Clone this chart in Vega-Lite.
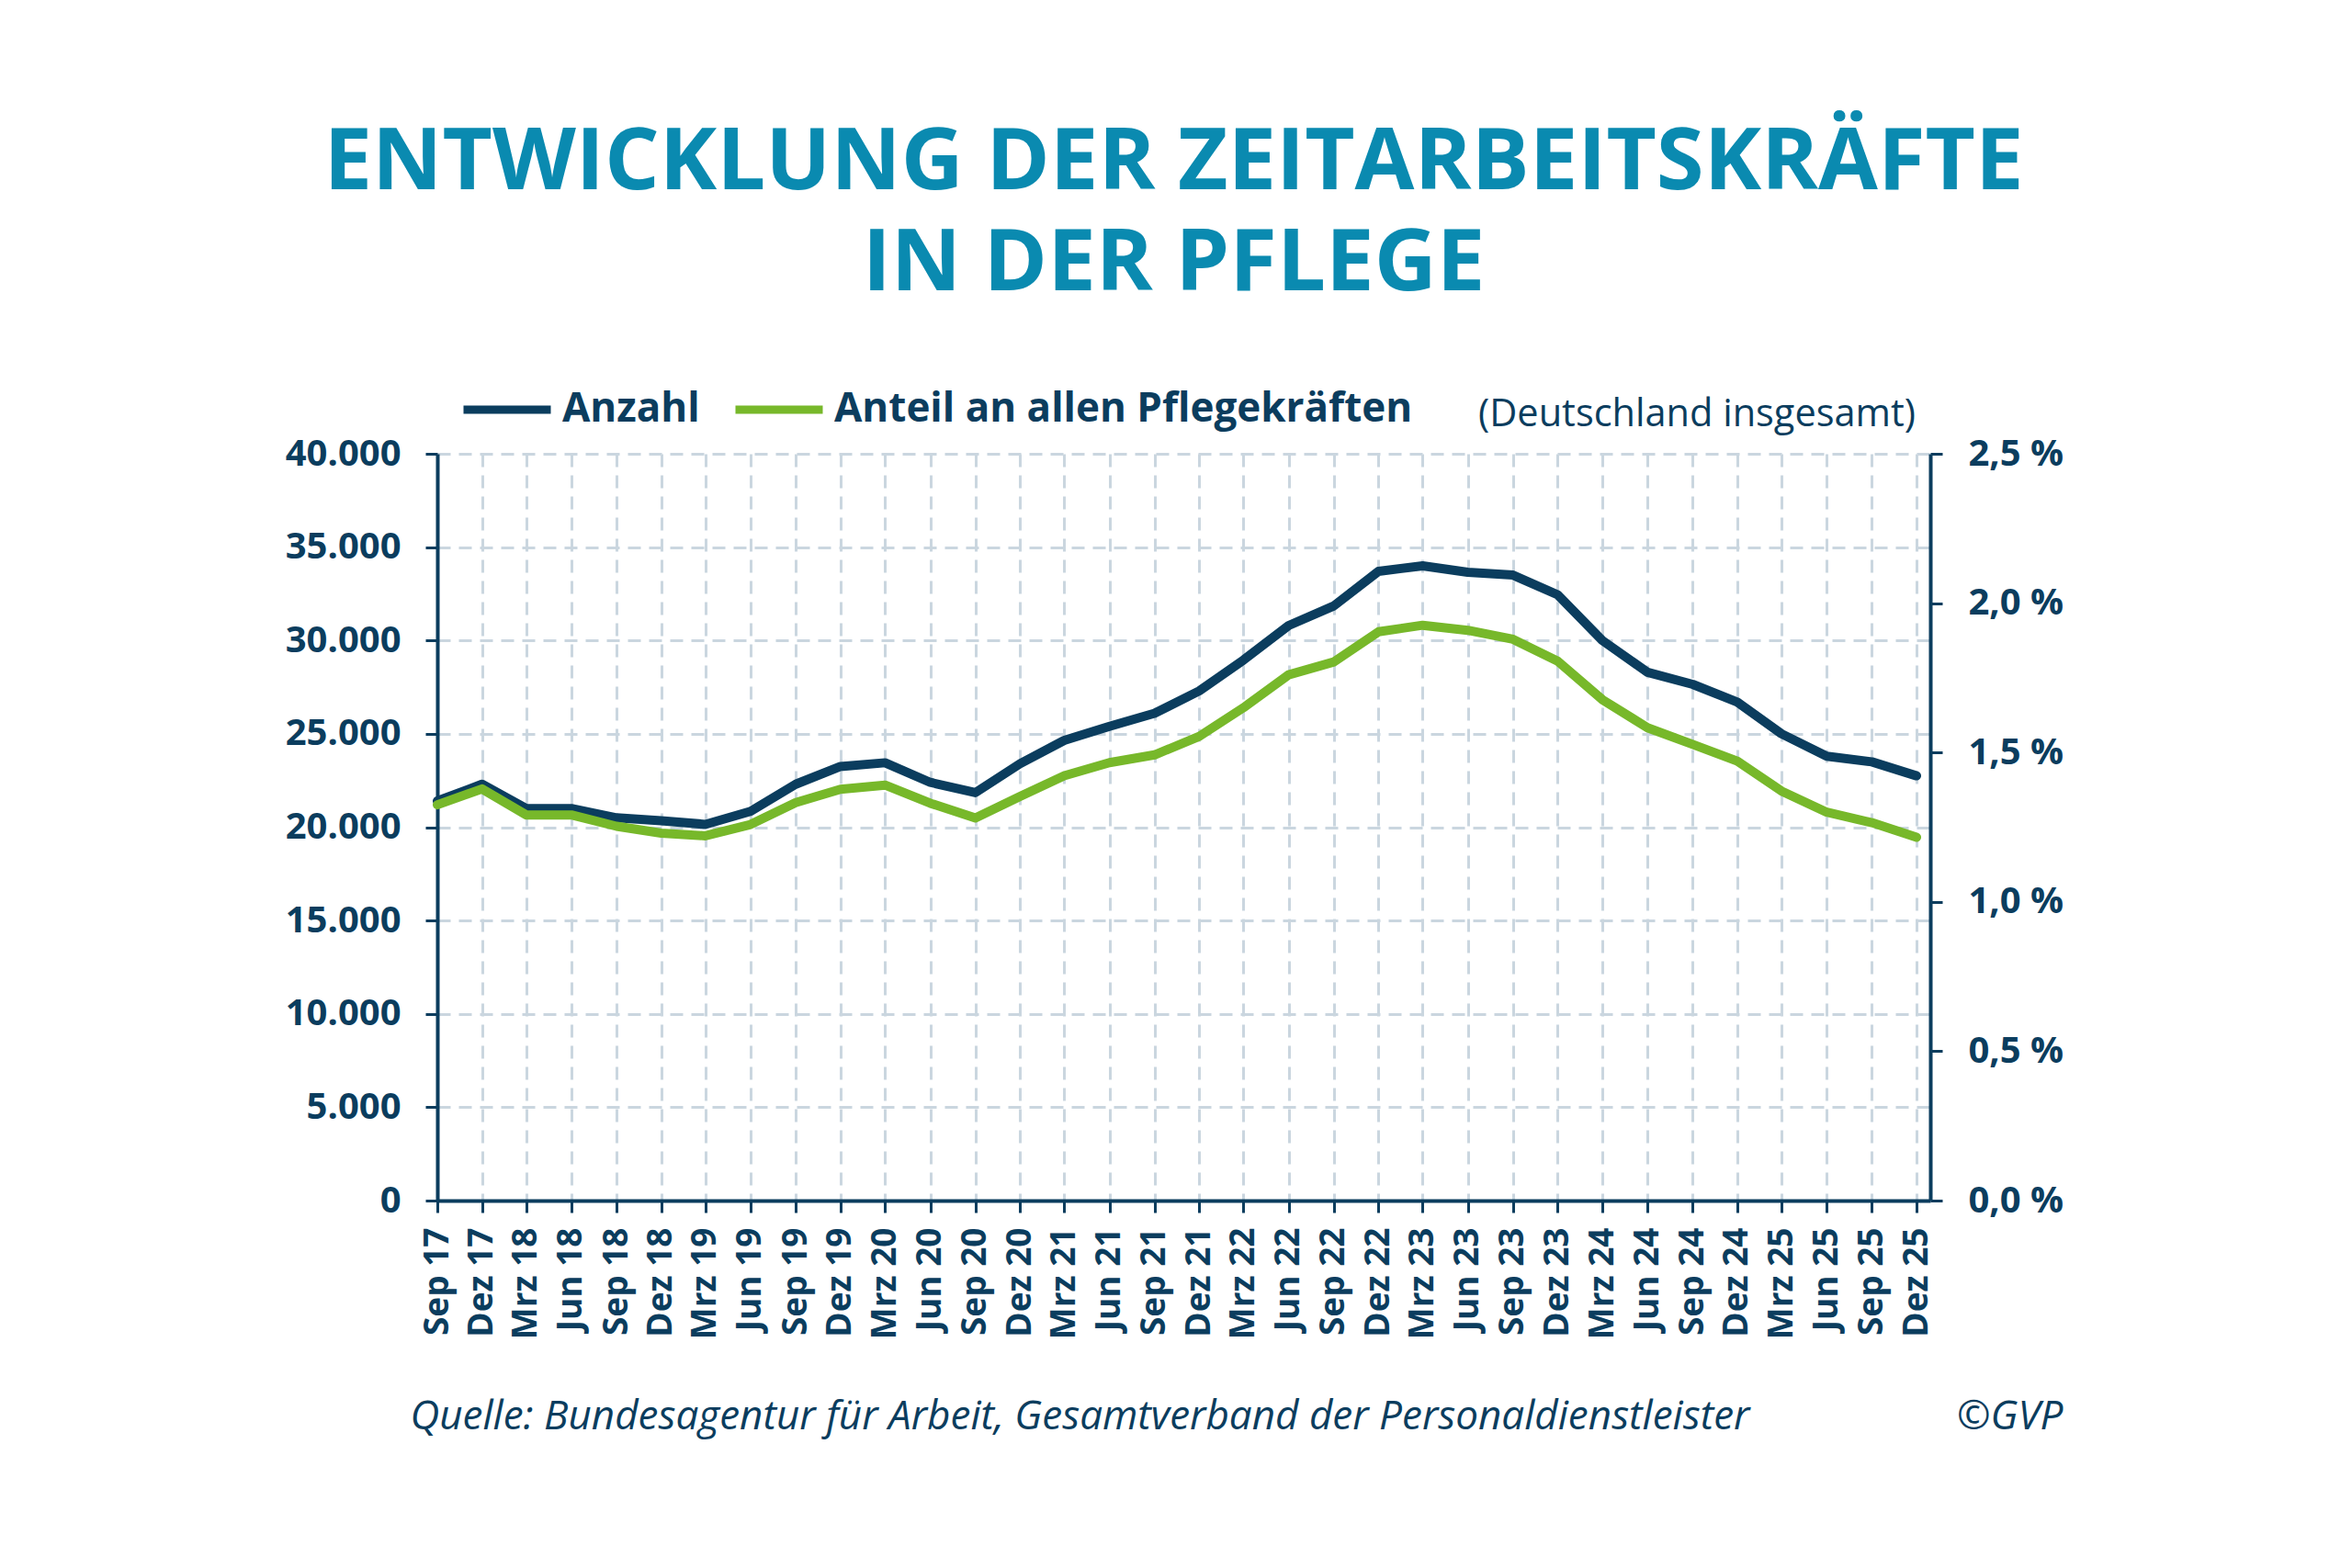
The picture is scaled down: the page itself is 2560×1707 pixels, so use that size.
{
  "$schema": "https://vega.github.io/schema/vega-lite/v6.json",
  "width": 1625,
  "height": 813,
  "autosize": {"type": "none"},
  "padding": {"left": 476, "top": 494, "right": 459, "bottom": 400},
  "background": "white",
  "config": {
    "font": "Open Sans",
    "view": {"stroke": null},
    "axis": {
      "domainColor": "#0b3d5e",
      "domainWidth": 4,
      "tickColor": "#0b3d5e",
      "tickWidth": 3,
      "tickSize": 13,
      "labelColor": "#0b3d5e",
      "labelFont": "Open Sans",
      "labelFontWeight": "bold",
      "labelFontSize": 40,
      "gridColor": "#cad6df",
      "gridWidth": 3,
      "gridDash": [14, 9],
      "titleColor": "#0b3d5e",
      "titleFont": "Open Sans",
      "titleFontStyle": "italic",
      "titleFontWeight": "normal",
      "titleFontSize": 44
    },
    "legend": {
      "orient": "none",
      "legendX": 24,
      "legendY": -100,
      "direction": "horizontal",
      "symbolType": "stroke",
      "symbolStrokeWidth": 9,
      "symbolSize": 9025,
      "labelFont": "Open Sans",
      "labelFontSize": 44,
      "labelFontWeight": "bold",
      "labelColor": "#0b3d5e",
      "labelOffset": 8,
      "labelLimit": 900,
      "columnPadding": 20,
      "titleOrient": "right",
      "titleBaseline": "top",
      "titleFont": "Open Sans",
      "titleFontSize": 41.5,
      "titleFontWeight": "normal",
      "titleColor": "#0b3d5e",
      "titlePadding": 72,
      "titleLimit": 900
    }
  },
  "title": {
    "text": ["ENTWICKLUNG DER ZEITARBEITSKRÄFTE", "IN DER PFLEGE"],
    "anchor": "middle",
    "font": "Open Sans",
    "fontSize": 94,
    "fontWeight": "bold",
    "color": "#0a8ab0",
    "lineHeight": 110,
    "offset": 58,
    "dx": -11
  },
  "data": {
    "values": [
      {"quartal": "2017-09-15T00:00:00", "anzahl": 21400, "anteil": 1.325},
      {"quartal": "2017-12-15T00:00:00", "anzahl": 22300, "anteil": 1.378},
      {"quartal": "2018-03-15T00:00:00", "anzahl": 21000, "anteil": 1.291},
      {"quartal": "2018-06-15T00:00:00", "anzahl": 21000, "anteil": 1.291},
      {"quartal": "2018-09-15T00:00:00", "anzahl": 20500, "anteil": 1.253},
      {"quartal": "2018-12-15T00:00:00", "anzahl": 20350, "anteil": 1.23},
      {"quartal": "2019-03-15T00:00:00", "anzahl": 20150, "anteil": 1.221},
      {"quartal": "2019-06-15T00:00:00", "anzahl": 20850, "anteil": 1.259},
      {"quartal": "2019-09-15T00:00:00", "anzahl": 22300, "anteil": 1.332},
      {"quartal": "2019-12-15T00:00:00", "anzahl": 23250, "anteil": 1.377},
      {"quartal": "2020-03-15T00:00:00", "anzahl": 23450, "anteil": 1.391},
      {"quartal": "2020-06-15T00:00:00", "anzahl": 22400, "anteil": 1.33},
      {"quartal": "2020-09-15T00:00:00", "anzahl": 21850, "anteil": 1.281},
      {"quartal": "2020-12-15T00:00:00", "anzahl": 23400, "anteil": 1.353},
      {"quartal": "2021-03-15T00:00:00", "anzahl": 24650, "anteil": 1.422},
      {"quartal": "2021-06-15T00:00:00", "anzahl": 25400, "anteil": 1.466},
      {"quartal": "2021-09-15T00:00:00", "anzahl": 26100, "anteil": 1.492},
      {"quartal": "2021-12-15T00:00:00", "anzahl": 27300, "anteil": 1.554},
      {"quartal": "2022-03-15T00:00:00", "anzahl": 28950, "anteil": 1.65},
      {"quartal": "2022-06-15T00:00:00", "anzahl": 30800, "anteil": 1.76},
      {"quartal": "2022-09-15T00:00:00", "anzahl": 31850, "anteil": 1.803},
      {"quartal": "2022-12-15T00:00:00", "anzahl": 33700, "anteil": 1.904},
      {"quartal": "2023-03-15T00:00:00", "anzahl": 34000, "anteil": 1.926},
      {"quartal": "2023-06-15T00:00:00", "anzahl": 33650, "anteil": 1.909},
      {"quartal": "2023-09-15T00:00:00", "anzahl": 33500, "anteil": 1.879},
      {"quartal": "2023-12-15T00:00:00", "anzahl": 32450, "anteil": 1.806},
      {"quartal": "2024-03-15T00:00:00", "anzahl": 30000, "anteil": 1.677},
      {"quartal": "2024-06-15T00:00:00", "anzahl": 28300, "anteil": 1.583},
      {"quartal": "2024-09-15T00:00:00", "anzahl": 27650, "anteil": 1.527},
      {"quartal": "2024-12-15T00:00:00", "anzahl": 26700, "anteil": 1.471},
      {"quartal": "2025-03-15T00:00:00", "anzahl": 25000, "anteil": 1.371},
      {"quartal": "2025-06-15T00:00:00", "anzahl": 23800, "anteil": 1.3},
      {"quartal": "2025-09-15T00:00:00", "anzahl": 23500, "anteil": 1.265},
      {"quartal": "2025-12-15T00:00:00", "anzahl": 22750, "anteil": 1.216}
    ]
  },
  "encoding": {
    "x": {
      "field": "quartal",
      "type": "temporal",
      "scale": {
        "domain": [
          {"year": 2017, "month": 9, "date": 15},
          {"year": 2026, "month": 1, "date": 12}
        ]
      },
      "axis": {
        "values": [
          {"year": 2017, "month": 9, "date": 15}, {"year": 2017, "month": 12, "date": 15},
          {"year": 2018, "month": 3, "date": 15}, {"year": 2018, "month": 6, "date": 15},
          {"year": 2018, "month": 9, "date": 15}, {"year": 2018, "month": 12, "date": 15},
          {"year": 2019, "month": 3, "date": 15}, {"year": 2019, "month": 6, "date": 15},
          {"year": 2019, "month": 9, "date": 15}, {"year": 2019, "month": 12, "date": 15},
          {"year": 2020, "month": 3, "date": 15}, {"year": 2020, "month": 6, "date": 15},
          {"year": 2020, "month": 9, "date": 15}, {"year": 2020, "month": 12, "date": 15},
          {"year": 2021, "month": 3, "date": 15}, {"year": 2021, "month": 6, "date": 15},
          {"year": 2021, "month": 9, "date": 15}, {"year": 2021, "month": 12, "date": 15},
          {"year": 2022, "month": 3, "date": 15}, {"year": 2022, "month": 6, "date": 15},
          {"year": 2022, "month": 9, "date": 15}, {"year": 2022, "month": 12, "date": 15},
          {"year": 2023, "month": 3, "date": 15}, {"year": 2023, "month": 6, "date": 15},
          {"year": 2023, "month": 9, "date": 15}, {"year": 2023, "month": 12, "date": 15},
          {"year": 2024, "month": 3, "date": 15}, {"year": 2024, "month": 6, "date": 15},
          {"year": 2024, "month": 9, "date": 15}, {"year": 2024, "month": 12, "date": 15},
          {"year": 2025, "month": 3, "date": 15}, {"year": 2025, "month": 6, "date": 15},
          {"year": 2025, "month": 9, "date": 15}, {"year": 2025, "month": 12, "date": 15}
        ],
        "labelExpr": "['Jan','Feb','Mrz','Apr','Mai','Jun','Jul','Aug','Sep','Okt','Nov','Dez'][month(datum.value)] + ' ' + timeFormat(datum.value, '%y')",
        "labelAngle": -90,
        "labelAlign": "right",
        "labelBaseline": "middle",
        "labelPadding": 16,
        "labelFontSize": 37,
        "labelFlush": false,
        "labelOverlap": false,
        "grid": true,
        "title": "Quelle: Bundesagentur für Arbeit, Gesamtverband der Personaldienstleister",
        "titleAnchor": "start",
        "titleAlign": "left",
        "titleBaseline": "middle",
        "titleX": -30,
        "titleY": 235
      }
    }
  },
  "layer": [
    {
      "mark": {"type": "line", "strokeWidth": 10, "strokeCap": "round", "strokeJoin": "round"},
      "encoding": {
        "y": {
          "field": "anzahl",
          "type": "quantitative",
          "scale": {"domain": [0, 40000], "nice": false},
          "axis": {
            "orient": "left",
            "values": [0, 5000, 10000, 15000, 20000, 25000, 30000, 35000, 40000],
            "labelExpr": "replace(format(datum.value, ','), ',', '.')",
            "labelPadding": 27,
            "grid": true,
            "title": null
          }
        },
        "color": {
          "datum": "Anzahl",
          "type": "nominal",
          "scale": {
            "domain": ["Anzahl", "Anteil an allen Pflegekräften"],
            "range": ["#0b3d5e", "#77b82a"]
          },
          "legend": {"title": "(Deutschland insgesamt)"}
        }
      }
    },
    {
      "mark": {"type": "line", "strokeWidth": 10, "strokeCap": "round", "strokeJoin": "round"},
      "encoding": {
        "y": {
          "field": "anteil",
          "type": "quantitative",
          "scale": {"domain": [0, 2.5], "nice": false},
          "axis": {
            "orient": "right",
            "values": [0, 0.5, 1, 1.5, 2, 2.5],
            "labelExpr": "replace(format(datum.value, '.1f'), '.', ',') + ' %'",
            "labelPadding": 28,
            "grid": false,
            "title": "©GVP",
            "titleAngle": 0,
            "titleAlign": "right",
            "titleBaseline": "middle",
            "titleX": 144,
            "titleY": 1048
          }
        },
        "color": {"datum": "Anteil an allen Pflegekräften", "type": "nominal"}
      }
    }
  ],
  "resolve": {"scale": {"y": "independent"}}
}
